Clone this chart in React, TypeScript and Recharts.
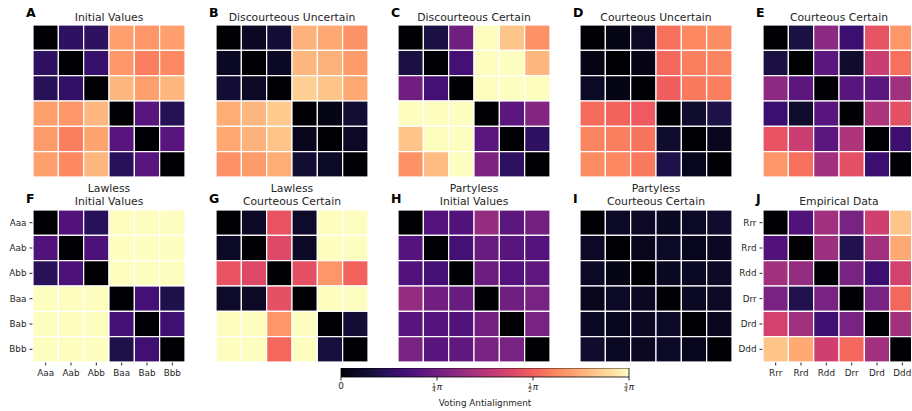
import React from 'react';
import { ScatterChart, Scatter, XAxis, YAxis, ReferenceArea } from 'recharts';

// Values are "voting antialignment" expressed as a fraction of the colour-bar maximum (3π/4)
const initialValues = [
  [0, 0.17, 0.17, 0.8, 0.78, 0.8],
  [0.17, 0, 0.19, 0.78, 0.73, 0.75],
  [0.16, 0.18, 0, 0.85, 0.8, 0.85],
  [0.8, 0.78, 0.85, 0, 0.27, 0.15],
  [0.79, 0.73, 0.81, 0.27, 0, 0.27],
  [0.8, 0.75, 0.85, 0.16, 0.27, 0],
];
const discourteousUncertain = [
  [0, 0.05, 0.1, 0.84, 0.82, 0.77],
  [0.05, 0, 0.05, 0.85, 0.84, 0.79],
  [0.1, 0.06, 0, 0.9, 0.88, 0.82],
  [0.83, 0.85, 0.89, 0, 0.03, 0.09],
  [0.82, 0.84, 0.88, 0.04, 0, 0.06],
  [0.77, 0.79, 0.83, 0.09, 0.06, 0],
];
const discourteousCertain = [
  [0, 0.12, 0.33, 1, 0.88, 0.77],
  [0.12, 0, 0.22, 1, 1, 0.85],
  [0.33, 0.22, 0, 1, 1, 1],
  [1, 1, 1, 0, 0.28, 0.38],
  [0.88, 1, 1, 0.28, 0, 0.17],
  [0.77, 0.86, 1, 0.36, 0.17, 0],
];
const courteousUncertain = [
  [0, 0.03, 0.06, 0.7, 0.75, 0.76],
  [0.03, 0, 0.03, 0.68, 0.73, 0.74],
  [0.06, 0.03, 0, 0.66, 0.72, 0.73],
  [0.69, 0.67, 0.65, 0, 0.08, 0.13],
  [0.74, 0.73, 0.71, 0.08, 0, 0.04],
  [0.76, 0.75, 0.72, 0.13, 0.04, 0],
];
const courteousCertain = [
  [0, 0.12, 0.4, 0.2, 0.63, 0.78],
  [0.12, 0, 0.28, 0.08, 0.55, 0.7],
  [0.4, 0.28, 0, 0.27, 0.28, 0.45],
  [0.2, 0.08, 0.27, 0, 0.48, 0.62],
  [0.63, 0.55, 0.28, 0.48, 0, 0.2],
  [0.78, 0.7, 0.45, 0.62, 0.2, 0],
];
const lawlessInitial = [
  [0, 0.25, 0.16, 1, 1, 1],
  [0.25, 0, 0.24, 1, 1, 1],
  [0.16, 0.24, 0, 1, 1, 1],
  [1, 1, 1, 0, 0.22, 0.13],
  [1, 1, 1, 0.22, 0, 0.21],
  [1, 1, 1, 0.13, 0.21, 0],
];
const lawlessCourteousCertain = [
  [0, 0.06, 0.63, 0.07, 1, 1],
  [0.06, 0, 0.6, 0.06, 1, 1],
  [0.63, 0.6, 0, 0.62, 0.78, 0.67],
  [0.07, 0.06, 0.62, 0, 1, 1],
  [1, 1, 0.78, 1, 0, 0.1],
  [1, 1, 0.68, 1, 0.11, 0],
];
const partylessInitial = [
  [0, 0.26, 0.25, 0.42, 0.28, 0.34],
  [0.26, 0, 0.22, 0.31, 0.27, 0.26],
  [0.25, 0.22, 0, 0.32, 0.26, 0.29],
  [0.42, 0.33, 0.31, 0, 0.33, 0.35],
  [0.27, 0.26, 0.25, 0.34, 0, 0.35],
  [0.35, 0.27, 0.29, 0.35, 0.35, 0],
];
const partylessCourteousCertain = [
  [0, 0.06, 0.06, 0.05, 0.06, 0.08],
  [0.06, 0, 0.04, 0.06, 0.04, 0.05],
  [0.06, 0.03, 0, 0.05, 0.05, 0.06],
  [0.04, 0.06, 0.05, 0, 0.05, 0.06],
  [0.05, 0.04, 0.05, 0.06, 0, 0.04],
  [0.08, 0.05, 0.05, 0.06, 0.04, 0],
];
const empiricalData = [
  [0, 0.25, 0.45, 0.35, 0.56, 0.88],
  [0.25, 0, 0.44, 0.14, 0.45, 0.82],
  [0.45, 0.42, 0, 0.35, 0.2, 0.57],
  [0.35, 0.14, 0.35, 0, 0.35, 0.68],
  [0.57, 0.45, 0.21, 0.35, 0, 0.45],
  [0.88, 0.82, 0.56, 0.68, 0.45, 0],
];

const groupLabels = ['Aaa', 'Aab', 'Abb', 'Baa', 'Bab', 'Bbb'];
const empiricalLabels = ['Rrr', 'Rrd', 'Rdd', 'Drr', 'Drd', 'Ddd'];
const colorbarTicks = [0, 0.25, 0.5, 0.75]; // multiples of π
const colorbarFractions = ['0', '1/4', '1/2', '3/4'];

const MAGMA = [
  '#000004', '#0a0822', '#140e36', '#251255', '#3b0f70', '#51127c', '#641a80',
  '#782281', '#8c2981', '#a1307e', '#b73779', '#cb3e72', '#de4968', '#ee5a5f',
  '#f7705c', '#fc8961', '#fe9f6d', '#feb77e', '#fecf92', '#fde5a7', '#fcfdbf',
];

function hexToRgb(h: string) {
  return [parseInt(h.slice(1, 3), 16), parseInt(h.slice(3, 5), 16), parseInt(h.slice(5, 7), 16)];
}
function magma(t: number) {
  const tt = Math.max(0, Math.min(1, t));
  const pos = tt * (MAGMA.length - 1);
  const i = Math.min(MAGMA.length - 2, Math.floor(pos));
  const f = pos - i;
  const a = hexToRgb(MAGMA[i]);
  const b = hexToRgb(MAGMA[i + 1]);
  const c = a.map((v, k) => Math.round(v + (b[k] - v) * f));
  return `rgb(${c[0]},${c[1]},${c[2]})`;
}

const FONT = '"DejaVu Sans", sans-serif';
const TXT = '#262626';
const PW = 152;
const CELL = PW / 6;
const YW = 33;
const XH = 24;
const cellTicks = [0.5, 1.5, 2.5, 3.5, 4.5, 5.5];

type Panel = {
  letter: string;
  title: string[];
  matrix: number[][];
  left: number;
  top: number;
  labels?: string[];
};

const COLS = [33, 216, 398, 580, 763];
const panels: Panel[] = [
  { letter: 'A', title: ['Initial Values'], matrix: initialValues, left: COLS[0], top: 25 },
  { letter: 'B', title: ['Discourteous Uncertain'], matrix: discourteousUncertain, left: COLS[1], top: 25 },
  { letter: 'C', title: ['Discourteous Certain'], matrix: discourteousCertain, left: COLS[2], top: 25 },
  { letter: 'D', title: ['Courteous Uncertain'], matrix: courteousUncertain, left: COLS[3], top: 25 },
  { letter: 'E', title: ['Courteous Certain'], matrix: courteousCertain, left: COLS[4], top: 25 },
  { letter: 'F', title: ['Lawless', 'Initial Values'], matrix: lawlessInitial, left: COLS[0], top: 210, labels: groupLabels },
  { letter: 'G', title: ['Lawless', 'Courteous Certain'], matrix: lawlessCourteousCertain, left: COLS[1], top: 210 },
  { letter: 'H', title: ['Partyless', 'Initial Values'], matrix: partylessInitial, left: COLS[2], top: 210 },
  { letter: 'I', title: ['Partyless', 'Courteous Certain'], matrix: partylessCourteousCertain, left: COLS[3], top: 210 },
  { letter: 'J', title: ['Empirical Data'], matrix: empiricalData, left: COLS[4], top: 210, labels: empiricalLabels },
];

function Heatmap({ p }: { p: Panel }) {
  const data: { x: number; y: number; v: number }[] = [];
  p.matrix.forEach((row, r) => row.forEach((v, c) => data.push({ x: c + 0.5, y: r + 0.5, v })));
  const show = !!p.labels;
  const labels = p.labels || [];
  const fmt = (v: number) => labels[Math.floor(v)] || '';
  const tickStyle = { fontSize: 8.8, fill: TXT, fontFamily: FONT };
  return (
    <div style={{ position: 'absolute', left: p.left - YW, top: p.top }}>
      <ScatterChart
        width={YW + PW}
        height={PW + XH}
        margin={show ? { top: 0, right: 0, bottom: 0, left: 0 } : { top: 0, right: 0, bottom: XH, left: YW }}
      >
        <XAxis
          type="number"
          dataKey="x"
          domain={[0, 6]}
          ticks={cellTicks}
          interval={0}
          hide={!show}
          height={XH}
          tickFormatter={fmt}
          tick={tickStyle}
          tickLine={{ stroke: TXT }}
          axisLine={false}
          tickSize={3.5}
          tickMargin={4}
        />
        <YAxis
          type="number"
          dataKey="y"
          domain={[0, 6]}
          reversed
          ticks={cellTicks}
          interval={0}
          hide={!show}
          width={YW}
          tickFormatter={fmt}
          tick={tickStyle}
          tickLine={{ stroke: TXT }}
          axisLine={false}
          tickSize={3.5}
          tickMargin={3}
        />
        <Scatter
          data={data}
          isAnimationActive={false}
          shape={(s: any) => (
            <rect
              x={s.cx - CELL / 2}
              y={s.cy - CELL / 2}
              width={CELL}
              height={CELL}
              fill={magma(s.payload.v)}
              stroke="#ffffff"
              strokeWidth={1.2}
            />
          )}
        />
      </ScatterChart>
    </div>
  );
}

function FracTick(props: any) {
  const { x, y, payload } = props;
  const idx = colorbarTicks.indexOf(payload.value);
  const lab = colorbarFractions[idx];
  if (lab === '0') {
    return (
      <text x={x} y={y + 6.5} textAnchor="middle" fontSize={8.8} fill={TXT} fontFamily={FONT}>
        0
      </text>
    );
  }
  const [num, den] = lab.split('/');
  return (
    <g fill={TXT} fontFamily={FONT}>
      <text x={x - 3} y={y + 4.2} textAnchor="middle" fontSize={5.4}>{num}</text>
      <line x1={x - 4.8} x2={x - 1.2} y1={y + 5.1} y2={y + 5.1} stroke={TXT} strokeWidth={0.6} />
      <text x={x - 3} y={y + 9} textAnchor="middle" fontSize={5.4}>{den}</text>
      <text x={x - 0.3} y={y + 7.2} fontSize={8.8} fontStyle="italic">π</text>
    </g>
  );
}

function Colorbar() {
  return (
    <div style={{ position: 'absolute', left: 331, top: 368 }}>
      <ScatterChart width={318} height={39} margin={{ top: 0, right: 20, bottom: 0, left: 10 }}>
        <XAxis
          type="number"
          dataKey="x"
          domain={[0, 0.75]}
          ticks={colorbarTicks}
          interval={0}
          height={30}
          tick={<FracTick />}
          tickLine={{ stroke: TXT }}
          axisLine={false}
          tickSize={3.5}
          tickMargin={2}
        />
        <YAxis type="number" dataKey="y" domain={[0, 1]} hide />
        <ReferenceArea
          x1={0}
          x2={0.75}
          y1={0}
          y2={1}
          fill="url(#magmaGrad)"
          fillOpacity={1}
          stroke="#000"
          strokeWidth={0.8}
        />
        <Scatter data={[{ x: 0, y: 0 }]} isAnimationActive={false} shape={() => <g />} />
      </ScatterChart>
    </div>
  );
}

export default function App() {
  return (
    <div
      style={{
        position: 'absolute',
        left: 0,
        top: 0,
        width: 911,
        height: 411,
        overflow: 'hidden',
        background: '#fff',
        fontFamily: FONT,
      }}
    >
      <svg width={911} height={411} style={{ position: 'absolute', left: 0, top: 0 }}>
        <defs>
          <linearGradient id="magmaGrad" x1="0" y1="0" x2="1" y2="0">
            {MAGMA.map((c, i) => (
              <stop key={i} offset={i / (MAGMA.length - 1)} stopColor={c} />
            ))}
          </linearGradient>
        </defs>
        {panels.map((p) => {
          const cx = p.left + PW / 2;
          const top = p.top < 100;
          const letterY = top ? 17 : 202.7;
          return (
            <g key={p.letter} fontFamily={FONT} fill={TXT}>
              <text x={p.left - 7} y={letterY} fontSize={12.5} fontWeight="bold" fill="#000">
                {p.letter}
              </text>
              {top ? (
                <text x={cx} y={20.5} textAnchor="middle" fontSize={10.8}>{p.title[0]}</text>
              ) : p.title.length === 2 ? (
                <>
                  <text x={cx} y={192.3} textAnchor="middle" fontSize={10.8}>{p.title[0]}</text>
                  <text x={cx} y={205} textAnchor="middle" fontSize={10.8}>{p.title[1]}</text>
                </>
              ) : (
                <text x={cx} y={205} textAnchor="middle" fontSize={10.8}>{p.title[0]}</text>
              )}
            </g>
          );
        })}
        <text x={485} y={405.5} textAnchor="middle" fontSize={8.8} fill={TXT} fontFamily={FONT}>
          Voting Antialignment
        </text>
      </svg>
      {panels.map((p) => (
        <Heatmap key={p.letter} p={p} />
      ))}
      <Colorbar />
    </div>
  );
}
